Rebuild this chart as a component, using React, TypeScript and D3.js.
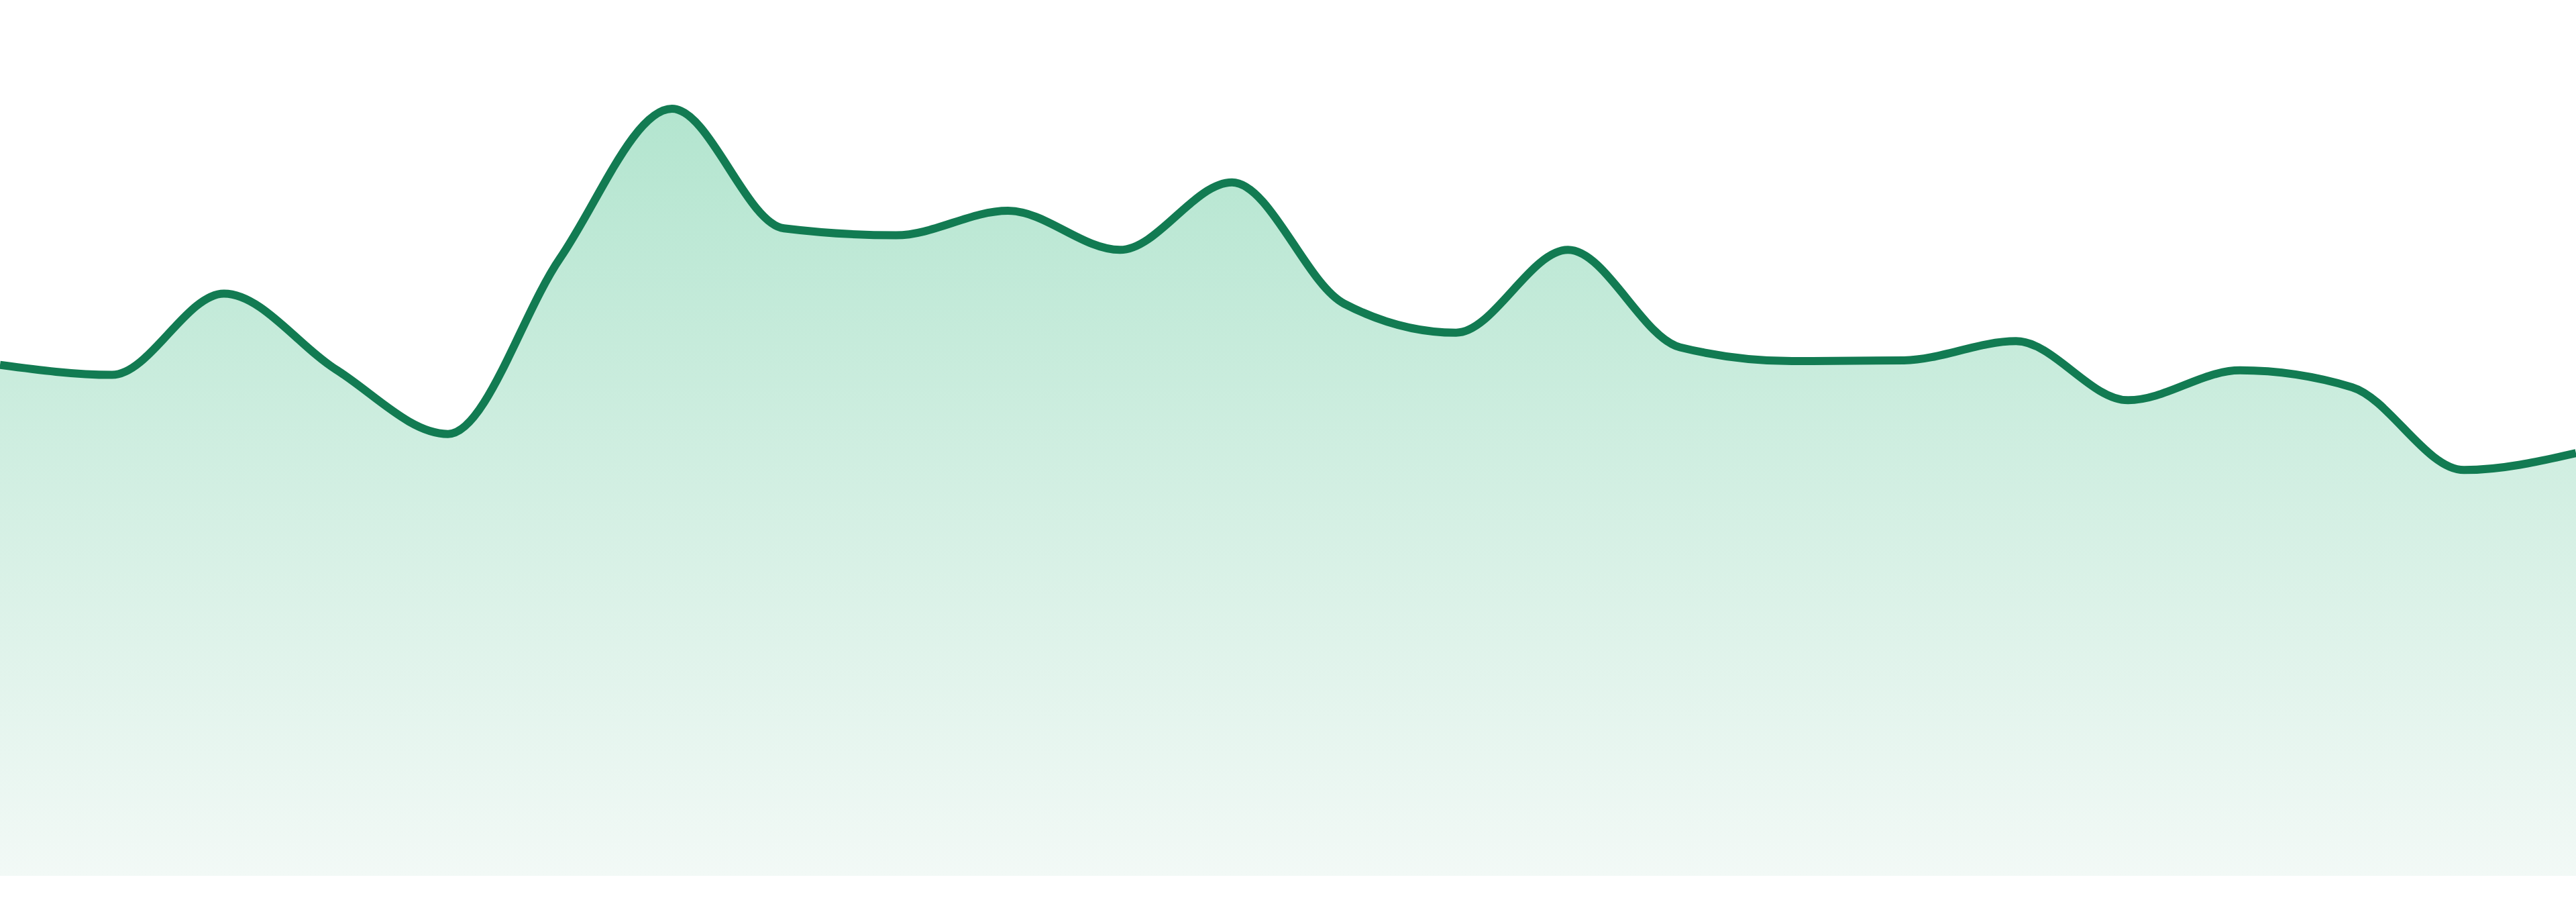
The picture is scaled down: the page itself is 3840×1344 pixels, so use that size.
import React from "react";
import * as d3 from "d3";

const WIDTH = 3840;
const HEIGHT = 1344;
const PLOT_BOTTOM = 1305;
const PLOT_TOP = 162;

// 24 evenly spaced samples, values relative to the peak (=100)
const categories: number[] = d3.range(24);
const values: number[] = [
  66.6, 65.3, 75.9, 66.0, 57.6, 80.5, 100, 84.4, 83.5, 86.7, 81.6, 90.4,
  74.6, 70.8, 81.6, 68.9, 67.1, 67.2, 69.7, 62.0, 65.9, 63.7, 52.9, 55.1,
];

const LINE_COLOR = "#127b52";
const FILL_TOP = "#b3e5cf";
const FILL_BOTTOM = "#f2f9f6";

export default function App() {
  const x = d3.scaleLinear().domain([0, categories.length - 1]).range([0, WIDTH]);
  const y = d3.scaleLinear().domain([0, 100]).range([PLOT_BOTTOM, PLOT_TOP]);

  const data = categories.map((c, i) => ({ c, v: values[i] }));

  const area = d3
    .area<{ c: number; v: number }>()
    .x((d) => x(d.c))
    .y0(y(0))
    .y1((d) => y(d.v))
    .curve(d3.curveMonotoneX);

  const line = d3
    .line<{ c: number; v: number }>()
    .x((d) => x(d.c))
    .y((d) => y(d.v))
    .curve(d3.curveMonotoneX);

  return (
    <div style={{ position: "fixed", left: 0, top: 0, width: WIDTH, height: HEIGHT, background: "#ffffff" }}>
      <svg width={WIDTH} height={HEIGHT} style={{ display: "block" }}>
        <defs>
          <linearGradient id="fillGrad" gradientUnits="userSpaceOnUse" x1={0} y1={y(100)} x2={0} y2={y(0)}>
            <stop offset="0%" stopColor={FILL_TOP} />
            <stop offset="100%" stopColor={FILL_BOTTOM} />
          </linearGradient>
        </defs>
        <path d={area(data) || ""} fill="url(#fillGrad)" />
        <path d={line(data) || ""} fill="none" stroke={LINE_COLOR} strokeWidth={12} strokeLinejoin="round" />
      </svg>
    </div>
  );
}
